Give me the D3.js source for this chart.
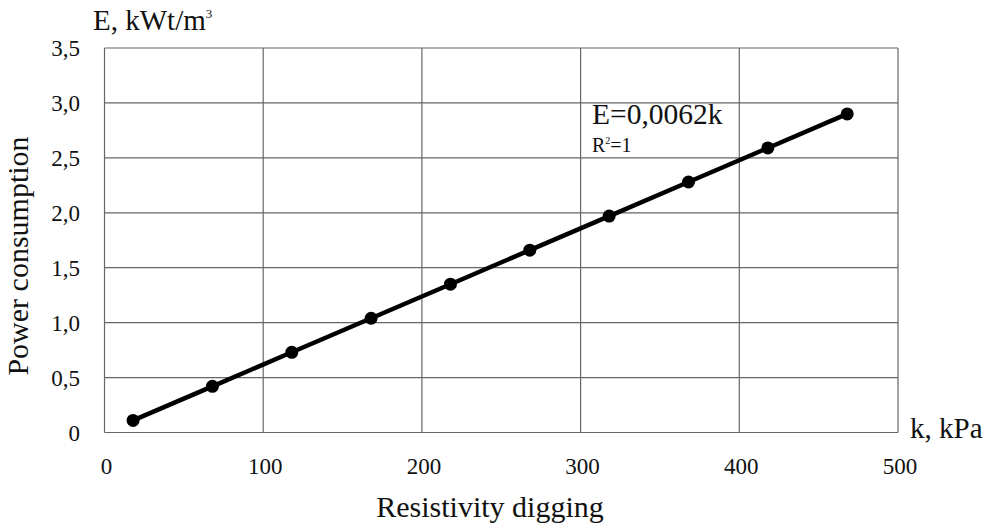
<!DOCTYPE html>
<html>
<head>
<meta charset="utf-8">
<script src="https://cdn.jsdelivr.net/npm/d3@7"></script>
<style>
  body { margin: 0; background: #fff; }
</style>
</head>
<body>
<script>
let w = 990;
let h = 526;

// data
let kValues = [18, 68, 118, 168, 218, 268, 318, 368, 418, 468];
let eValues = [0.11, 0.42, 0.73, 1.04, 1.35, 1.66, 1.97, 2.28, 2.59, 2.90];
let xTicks = [0, 100, 200, 300, 400, 500];
let yTicks = [0, 0.5, 1.0, 1.5, 2.0, 2.5, 3.0, 3.5];

let dataset = kValues.map((k, i) => ({k: k, e: eValues[i]}));

let plotLeft = 104.5, plotRight = 898, plotTop = 48, plotBottom = 432.5;
let serif = "Liberation Serif";

let xScale = d3.scaleLinear()
    .domain([0, 500])
    .range([plotLeft, plotRight])

let yScale = d3.scaleLinear()
    .domain([0, 3.5])
    .range([plotBottom, plotTop])

let svg = d3.select("body")
    .append("svg")
    .attr("width", w)
    .attr("height", h)

// grid
svg.selectAll("line.vgrid")
    .data(xTicks)
    .enter()
    .append("line")
    .attr("class", "vgrid")
    .attr("x1", d => xScale(d))
    .attr("x2", d => xScale(d))
    .attr("y1", plotTop)
    .attr("y2", plotBottom)
    .attr("stroke", "#666")
    .attr("stroke-width", 1.2)

svg.selectAll("line.hgrid")
    .data(yTicks)
    .enter()
    .append("line")
    .attr("class", "hgrid")
    .attr("x1", plotLeft)
    .attr("x2", plotRight)
    .attr("y1", d => yScale(d))
    .attr("y2", d => yScale(d))
    .attr("stroke", "#666")
    .attr("stroke-width", 1.2)

// tick labels
let fmt = d => d === 0 ? "0" : d3.format(".1f")(d).replace(".", ",");

svg.selectAll("text.ytick")
    .data(yTicks)
    .enter()
    .append("text")
    .attr("class", "ytick")
    .text(fmt)
    .attr("x", 80)
    .attr("y", d => yScale(d) + 8)
    .attr("text-anchor", "end")
    .attr("font-family", serif)
    .attr("font-size", "23px")
    .attr("fill", "#111")

svg.selectAll("text.xtick")
    .data(xTicks)
    .enter()
    .append("text")
    .attr("class", "xtick")
    .text(d => d)
    .attr("x", d => xScale(d) + 2)
    .attr("y", 474)
    .attr("text-anchor", "middle")
    .attr("font-family", serif)
    .attr("font-size", "23px")
    .attr("fill", "#111")

// series line and markers
let line = d3.line()
    .x(d => xScale(d.k))
    .y(d => yScale(d.e))

svg.append("path")
    .datum(dataset)
    .attr("d", line)
    .attr("fill", "none")
    .attr("stroke", "#000")
    .attr("stroke-width", 4.5)

svg.selectAll("circle")
    .data(dataset)
    .enter()
    .append("circle")
    .attr("cx", d => xScale(d.k))
    .attr("cy", d => yScale(d.e))
    .attr("r", 6.5)
    .attr("fill", "#000")

// labels
let label = (x, y, size) => svg.append("text")
    .attr("x", x)
    .attr("y", y)
    .attr("font-family", serif)
    .attr("font-size", size)
    .attr("fill", "#111")

label(93, 30, "29px")
    .text("E, kWt/m")
    .append("tspan")
    .attr("font-size", "13px")
    .attr("dy", -12)
    .text("3")

label(910, 438, "29px").text("k, kPa")

label(490, 517, "30px")
    .attr("text-anchor", "middle")
    .text("Resistivity digging")

svg.append("text")
    .attr("transform", "translate(28,256) rotate(-90)")
    .attr("text-anchor", "middle")
    .attr("font-family", serif)
    .attr("font-size", "30px")
    .attr("fill", "#111")
    .text("Power consumption")

label(592, 124, "29.5px").text("E=0,0062k")

let r2 = label(592, 152, "20px")
r2.append("tspan").text("R")
r2.append("tspan").attr("font-size", "10px").attr("dy", -8).text("2")
r2.append("tspan").attr("dy", 8).text("=1")
</script>
</body>
</html>
